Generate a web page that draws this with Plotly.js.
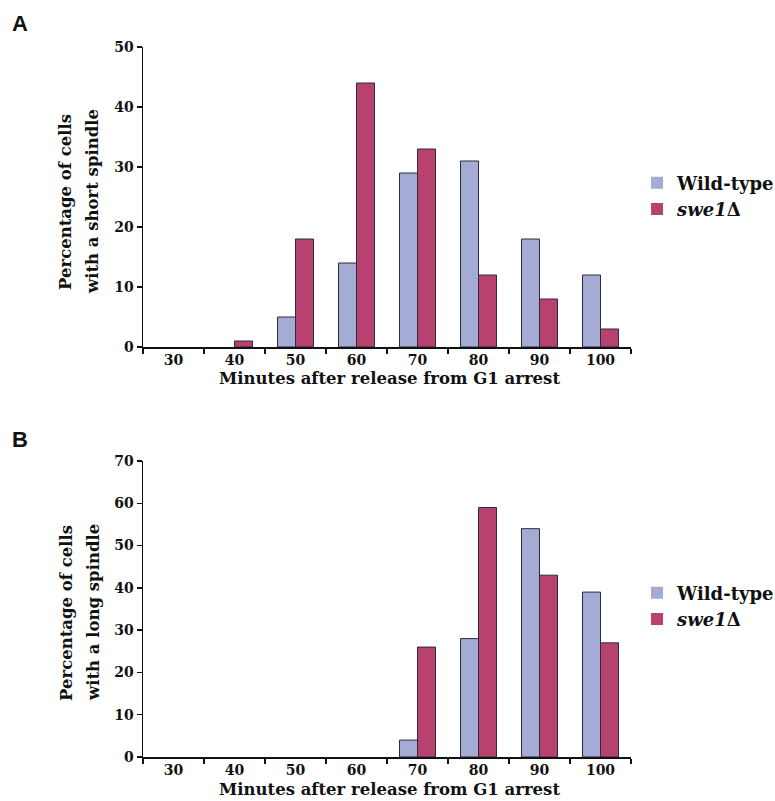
<!DOCTYPE html>
<html>
<head>
<meta charset="utf-8">
<script src="https://cdn.plot.ly/plotly-3.0.1.min.js"></script>
<style>html,body{margin:0;padding:0;background:#fff;}#chart{width:775px;height:801px;}</style>
</head>
<body>
<div id="chart"></div>
<script>
const minutes = ["30", "40", "50", "60", "70", "80", "90", "100"];
const shortWildType = [0, 0, 5, 14, 29, 31, 18, 12];
const shortSwe1 = [0, 1, 18, 44, 33, 12, 8, 3];
const longWildType = [0, 0, 0, 0, 4, 28, 54, 39];
const longSwe1 = [0, 0, 0, 0, 26, 59, 43, 27];
const seriesNames = ["Wild-type", "<i>swe1</i>Δ"];
const shortTicks = [0, 10, 20, 30, 40, 50];
const longTicks = [0, 10, 20, 30, 40, 50, 60, 70];

const wtColor = "#a4acd6";
const sweColor = "#b8426f";
const serif = "DejaVu Serif, Liberation Serif, serif";

function edgeFor(vals) {
  return {color: "#2b2b3a", width: vals.map(v => v === 0 ? 0 : 1)};
}

const traces = [
  {type: "bar", x: minutes, y: shortWildType, name: seriesNames[0], xaxis: "x", yaxis: "y",
   marker: {color: wtColor, line: edgeFor(shortWildType)}, legend: "legend"},
  {type: "bar", x: minutes, y: shortSwe1, name: seriesNames[1], xaxis: "x", yaxis: "y",
   marker: {color: sweColor, line: edgeFor(shortSwe1)}, legend: "legend"},
  {type: "bar", x: minutes, y: longWildType, name: seriesNames[0], xaxis: "x2", yaxis: "y2",
   marker: {color: wtColor, line: edgeFor(longWildType)}, legend: "legend2"},
  {type: "bar", x: minutes, y: longSwe1, name: seriesNames[1], xaxis: "x2", yaxis: "y2",
   marker: {color: sweColor, line: edgeFor(longSwe1)}, legend: "legend2"}
];

const tickFont = {family: serif, size: 14, color: "#111", weight: "bold"};
function xAxis(anchor) {
  return {domain: [143/775, 631/775], anchor: anchor, type: "category",
    range: [-0.5, 7.5], showline: true, linecolor: "#111", linewidth: 1.5,
    ticks: "outside", tickson: "boundaries", ticklen: 5, tickcolor: "#111", tickwidth: 1.5,
    tickfont: tickFont, showgrid: false, zeroline: false, fixedrange: true, automargin: false};
}
function yAxis(anchor, domain, maxV, ticks) {
  return {domain: domain, anchor: anchor, range: [0, maxV], tickvals: ticks,
    showline: true, linecolor: "#111", linewidth: 1.5, ticks: "outside", ticklen: 5,
    tickcolor: "#111", tickwidth: 1.5, tickfont: tickFont, showgrid: false, zeroline: false,
    fixedrange: true, automargin: false};
}

const titleFont = {family: serif, size: 16.5, color: "#111", weight: "bold"};
const legendBase = {x: 0.822, xanchor: "left", yanchor: "middle", bgcolor: "rgba(0,0,0,0)",
  font: {family: serif, size: 18, color: "#111", weight: "bold"}, itemwidth: 30, tracegroupgap: 0};

function ann(text, x, y, opts) {
  return Object.assign({text: text, x: x/775, y: 1 - y/801, xref: "paper", yref: "paper",
    showarrow: false, font: titleFont, xanchor: "center", yanchor: "middle"}, opts || {});
}
const panelFont = {family: "Liberation Sans, Arial, sans-serif", size: 22, color: "#111", weight: "bold"};

const layout = {
  width: 775, height: 801,
  margin: {l: 0, r: 0, t: 0, b: 0, autoexpand: false},
  paper_bgcolor: "#fff", plot_bgcolor: "#fff",
  barmode: "group", bargap: 0.41, bargroupgap: 0,
  xaxis: xAxis("y"),
  yaxis: yAxis("x", [1 - 347/801, 1 - 47/801], 50, shortTicks),
  xaxis2: xAxis("y2"),
  yaxis2: yAxis("x2", [1 - 757/801, 1 - 461/801], 70, longTicks),
  legend: Object.assign({}, legendBase, {y: 1 - 196/801}),
  legend2: Object.assign({}, legendBase, {y: 1 - 606/801}),
  annotations: [
    ann("A", 20, 24, {font: panelFont}),
    ann("B", 20, 439, {font: panelFont}),
    ann("Percentage of cells", 66, 202, {textangle: -90}),
    ann("with a short spindle", 93, 202, {textangle: -90}),
    ann("Minutes after release from G1 arrest", 389, 378),
    ann("Percentage of cells", 66, 613, {textangle: -90}),
    ann("with a long spindle", 93, 613, {textangle: -90}),
    ann("Minutes after release from G1 arrest", 389, 789)
  ]
};

Plotly.newPlot("chart", traces, layout, {displayModeBar: false, staticPlot: true});
</script>
</body>
</html>
